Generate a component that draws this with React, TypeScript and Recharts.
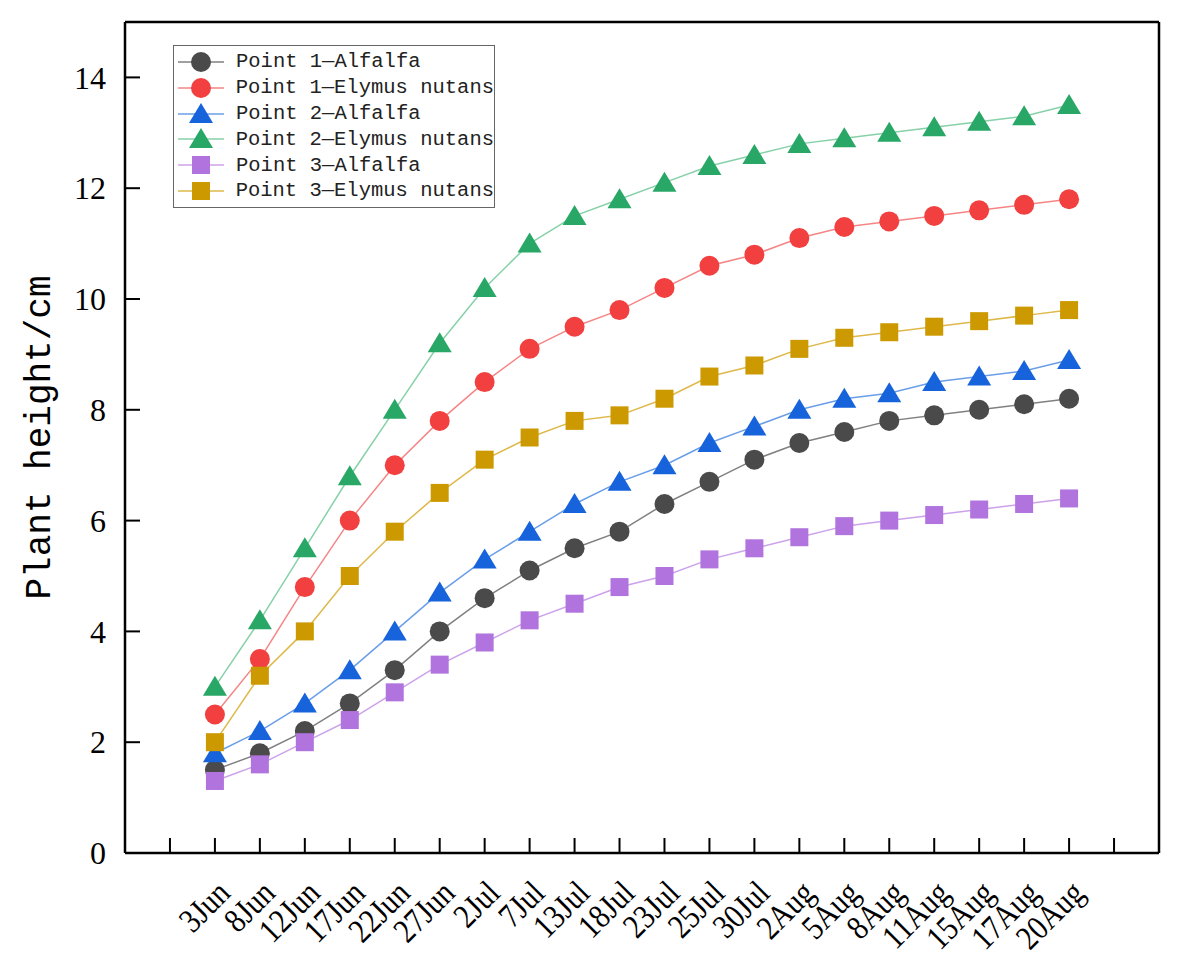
import { LineChart, Line, XAxis, YAxis, ReferenceLine } from 'recharts';

// sampling dates
const DATES = [
  '3Jun', '8Jun', '12Jun', '17Jun', '22Jun', '27Jun', '2Jul', '7Jul', '13Jul', '18Jul',
  '23Jul', '25Jul', '30Jul', '2Aug', '5Aug', '8Aug', '11Aug', '15Aug', '17Aug', '20Aug',
];

// plant height (cm)
const P1_ALFALFA = [1.5, 1.8, 2.2, 2.7, 3.3, 4.0, 4.6, 5.1, 5.5, 5.8, 6.3, 6.7, 7.1, 7.4, 7.6, 7.8, 7.9, 8.0, 8.1, 8.2];
const P1_ELYMUS = [2.5, 3.5, 4.8, 6.0, 7.0, 7.8, 8.5, 9.1, 9.5, 9.8, 10.2, 10.6, 10.8, 11.1, 11.3, 11.4, 11.5, 11.6, 11.7, 11.8];
const P2_ALFALFA = [1.8, 2.2, 2.7, 3.3, 4.0, 4.7, 5.3, 5.8, 6.3, 6.7, 7.0, 7.4, 7.7, 8.0, 8.2, 8.3, 8.5, 8.6, 8.7, 8.9];
const P2_ELYMUS = [3.0, 4.2, 5.5, 6.8, 8.0, 9.2, 10.2, 11.0, 11.5, 11.8, 12.1, 12.4, 12.6, 12.8, 12.9, 13.0, 13.1, 13.2, 13.3, 13.5];
const P3_ALFALFA = [1.3, 1.6, 2.0, 2.4, 2.9, 3.4, 3.8, 4.2, 4.5, 4.8, 5.0, 5.3, 5.5, 5.7, 5.9, 6.0, 6.1, 6.2, 6.3, 6.4];
const P3_ELYMUS = [2.0, 3.2, 4.0, 5.0, 5.8, 6.5, 7.1, 7.5, 7.8, 7.9, 8.2, 8.6, 8.8, 9.1, 9.3, 9.4, 9.5, 9.6, 9.7, 9.8];

const Y_TICKS = [0, 2, 4, 6, 8, 10, 12, 14];
const X_TICKS = [-1, 0, 1, 2, 3, 4, 5, 6, 7, 8, 9, 10, 11, 12, 13, 14, 15, 16, 17, 18, 19, 20];

type Shape = 'circle' | 'triangle' | 'square';

const SERIES: { key: string; name: string; values: number[]; fill: string; line: string; shape: Shape }[] = [
  { key: 'p1a', name: 'Point 1—Alfalfa', values: P1_ALFALFA, fill: '#4a4a4a', line: '#808080', shape: 'circle' },
  { key: 'p1e', name: 'Point 1—Elymus nutans', values: P1_ELYMUS, fill: '#f23f3f', line: '#f58585', shape: 'circle' },
  { key: 'p2a', name: 'Point 2—Alfalfa', values: P2_ALFALFA, fill: '#1763dc', line: '#6a9ee8', shape: 'triangle' },
  { key: 'p2e', name: 'Point 2—Elymus nutans', values: P2_ELYMUS, fill: '#29a766', line: '#86d1a7', shape: 'triangle' },
  { key: 'p3a', name: 'Point 3—Alfalfa', values: P3_ALFALFA, fill: '#b173dd', line: '#cca2ea', shape: 'square' },
  { key: 'p3e', name: 'Point 3—Elymus nutans', values: P3_ELYMUS, fill: '#cc9a00', line: '#dfb84a', shape: 'square' },
];

const data = DATES.map((d, i) => {
  const row: Record<string, number | string> = { i, date: d };
  SERIES.forEach((s) => {
    row[s.key] = s.values[i];
  });
  return row;
});

function marker(shape: Shape, cx: number, cy: number, fill: string, key?: string) {
  if (shape === 'circle') return <circle key={key} cx={cx} cy={cy} r={10} fill={fill} />;
  if (shape === 'square') return <rect key={key} x={cx - 9} y={cy - 9} width={18} height={18} fill={fill} />;
  return (
    <polygon
      key={key}
      points={`${cx},${cy - 11} ${cx - 12},${cy + 9} ${cx + 12},${cy + 9}`}
      fill={fill}
    />
  );
}

// rotated, slightly condensed date labels; tick marks point inward
const XTick = ({ x, y, payload }: any) => {
  const label = DATES[payload.value] ?? '';
  const ax = x + 17;
  const ay = y + 42;
  return (
    <g>
      <line x1={x} x2={x} y1={y} y2={y - 15} stroke="#000" strokeWidth={2} />
      {label && (
        <text
          x={0}
          y={0}
          textAnchor="end"
          transform={`translate(${ax} ${ay}) rotate(-45) scale(0.86 1)`}
          fontFamily="'Liberation Serif', serif"
          fontSize={34}
          fill="#000"
        >
          {label}
        </text>
      )}
    </g>
  );
};

const YTick = ({ x, y, payload }: any) => (
  <g>
    <line x1={x} x2={x + 15} y1={y} y2={y} stroke="#000" strokeWidth={2} />
    <text
      x={x - 19}
      y={y}
      dy="0.35em"
      textAnchor="end"
      fontFamily="'Liberation Serif', serif"
      fontSize={32}
      fill="#000"
    >
      {payload.value}
    </text>
  </g>
);

const YTitle = ({ viewBox }: any) => {
  const cy = viewBox ? viewBox.y + viewBox.height / 2 : 429;
  return (
    <text
      x={32}
      y={cy}
      textAnchor="middle"
      dominantBaseline="central"
      transform={`rotate(-90 32 ${cy})`}
      fontFamily="'Liberation Mono', monospace"
      fontSize={36}
      fill="#000"
    >
      Plant height/cm
    </text>
  );
};

const LegendBox = () => (
  <div
    style={{
      position: 'absolute',
      left: 165,
      top: 37,
      border: '1.5px solid #666',
      background: '#fff',
      padding: '3px 0 3px 0',
      width: 322,
      boxSizing: 'border-box',
    }}
  >
    {SERIES.map((s) => (
      <div key={s.key} style={{ display: 'flex', alignItems: 'center', height: 25.8 }}>
        <svg width={60} height={26} style={{ display: 'block' }}>
          <line x1={4} x2={50} y1={13} y2={13} stroke={s.line} strokeWidth={1.5} />
          {marker(s.shape, 27, 13, s.fill)}
        </svg>
        <span
          style={{
            fontFamily: "'Liberation Mono', monospace",
            fontSize: 20.5,
            color: '#222',
            marginLeft: 2,
            whiteSpace: 'nowrap',
          }}
        >
          {s.name}
        </span>
      </div>
    ))}
  </div>
);

export default function App() {
  return (
    <div style={{ position: 'relative', width: 1175, height: 966, background: '#fff' }}>
      <LineChart
        width={1175}
        height={966}
        data={data}
        margin={{ top: 14, right: 24, bottom: 0, left: 0 }}
      >
        <XAxis
          dataKey="i"
          type="number"
          domain={[-2, 21]}
          ticks={X_TICKS}
          interval={0}
          tick={<XTick />}
          tickSize={0}
          tickMargin={0}
          tickLine={false}
          axisLine={{ stroke: '#000', strokeWidth: 2.5 }}
          height={121}
        />
        <YAxis
          type="number"
          domain={[0, 15]}
          ticks={Y_TICKS}
          interval={0}
          tick={<YTick />}
          tickSize={0}
          tickMargin={0}
          tickLine={false}
          axisLine={{ stroke: '#000', strokeWidth: 2.5 }}
          width={117}
          label={<YTitle />}
        />
        <ReferenceLine y={15} stroke="#000" strokeWidth={2.5} />
        <ReferenceLine x={21} stroke="#000" strokeWidth={2.5} />
        {SERIES.map((s) => (
          <Line
            key={s.key}
            dataKey={s.key}
            name={s.name}
            type="linear"
            stroke={s.line}
            strokeWidth={1.5}
            isAnimationActive={false}
            dot={(p: any) => marker(s.shape, p.cx, p.cy, s.fill, `${s.key}-${p.index}`)}
            activeDot={false}
          />
        ))}
      </LineChart>
      <LegendBox />
    </div>
  );
}
